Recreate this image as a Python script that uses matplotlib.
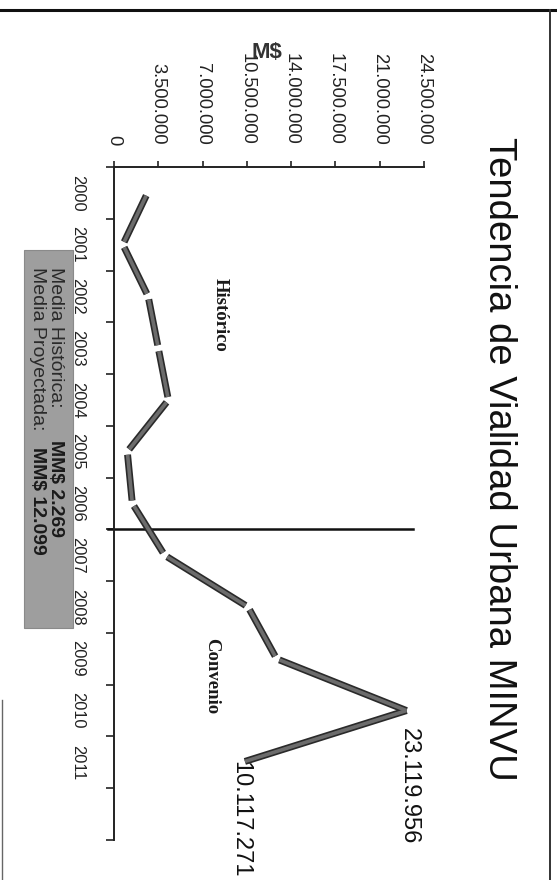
import matplotlib
matplotlib.use("Agg")
import matplotlib.pyplot as plt
from matplotlib.patches import Rectangle
from matplotlib.lines import Line2D
from matplotlib.ticker import FuncFormatter, FixedLocator
import numpy as np

plt.rcParams['font.family'] = ['Liberation Sans', 'DejaVu Sans']

# ---------------- data ----------------
years = ['2000', '2001', '2002', '2003', '2004', '2005', '2006',
         '2007', '2008', '2009', '2010', '2011', '']
values = [2.65e6, 0.70e6, 2.70e6, 3.50e6, 4.30e6, 1.05e6, 1.45e6,
          4.00e6, 10.60e6, 12.85e6, 23119956, 10117271]
value_ticks = [0, 3.5e6, 7.0e6, 10.5e6, 14.0e6, 17.5e6, 21.0e6, 24.5e6]
title = 'Tendencia de Vialidad Urbana MINVU'
unit_label = 'M$'
hist_label = 'Histórico'
conv_label = 'Convenio'
media_hist_text = 'Media Histórica:'
media_hist_val = 'MM$ 2.269'
media_proy_text = 'Media Proyectada:'
media_proy_val = 'MM$ 12.099'
peak_labels = {10: '23.119.956', 11: '10.117.271'}
split_after = 6  # separator between 2006 and 2007

W, H = 557, 880
fig = plt.figure(figsize=(W / 100, H / 100), dpi=100)

def fx(px):
    return px / W

def fy(py):
    return 1 - py / H

ax = fig.add_axes([fx(114), fy(840), fx(424) - fx(114), fy(167) - fy(840)])
ax.set_xlim(0, value_ticks[-1])
ax.set_ylim(len(years) - 0.5, -0.5)

for s in ['right', 'bottom']:
    ax.spines[s].set_visible(False)
for s in ['left', 'top']:
    ax.spines[s].set_linewidth(1.4)
    ax.spines[s].set_color('#222222')

# value axis on top
ax.xaxis.tick_top()
ax.set_xticks(value_ticks)
ax.xaxis.set_major_formatter(FuncFormatter(lambda v, p: f"{int(round(v)):,}".replace(',', '.')))
ax.tick_params(axis='x', direction='out', length=4, width=1.2, color='#222222',
               labelsize=13.2, labelcolor='#222222', pad=12, labelrotation=-90)
for lab in ax.get_xticklabels():
    lab.set_ha('center')
    lab.set_va('bottom')

# category axis on left
ncat = len(years)
ax.yaxis.set_major_locator(FixedLocator(np.arange(-0.5, ncat, 1.0)))
ax.yaxis.set_minor_locator(FixedLocator(np.arange(0, ncat)))
ax.yaxis.set_major_formatter(FuncFormatter(lambda v, p: ''))
ax.yaxis.set_minor_formatter(FuncFormatter(lambda v, p: years[int(round(v))] if 0 <= int(round(v)) < ncat else ''))
ax.tick_params(axis='y', which='major', direction='out', length=6, width=1.2, color='#222222')
ax.tick_params(axis='y', which='minor', length=0, labelsize=11.8, labelcolor='#222222',
               pad=21, labelrotation=-90)
for lab in ax.get_yticklabels(minor=True):
    lab.set_ha('right')
    lab.set_va('center')

# ---------------- line (segmented, 3D-like) ----------------
pos = np.arange(len(values))
tr = ax.transData
inv = tr.inverted()
gap = 3.0
for i in range(len(values) - 1):
    p0 = tr.transform((values[i], pos[i]))
    p1 = tr.transform((values[i + 1], pos[i + 1]))
    d = p1 - p0
    L = np.hypot(*d)
    u = d / L
    g0 = 0 if i == 10 else gap
    g1 = 0 if i == 9 else gap
    a = inv.transform(p0 + u * g0)
    b = inv.transform(p1 - u * g1)
    ax.plot([a[0], b[0]], [a[1], b[1]], color='#2a2a2a', lw=5.0,
            solid_capstyle='butt', zorder=3)
    ax.plot([a[0], b[0]], [a[1], b[1]], color='#6c6c6c', lw=2.6,
            solid_capstyle='butt', zorder=4)

# separator line
ax.plot([-0.47e6, 23.6e6], [split_after + 0.5, split_after + 0.5],
        color='#111111', lw=1.8, clip_on=False, zorder=2)

# section labels
ax.text(8.4e6, 2.35, hist_label, rotation=-90, ha='center', va='center',
        family=['Liberation Serif', 'DejaVu Serif'], weight='bold', fontsize=13.5, color='#1a1a1a')
ax.text(7.7e6, 9.33, conv_label, rotation=-90, ha='center', va='center',
        family=['Liberation Serif', 'DejaVu Serif'], weight='bold', fontsize=13.5, color='#1a1a1a')

# value labels
offsets = {10: (2, -17), 11: (-2, 1)}
for k, txt in peak_labels.items():
    ax.annotate(txt, xy=(values[k], pos[k]), xytext=offsets[k], textcoords='offset pixels',
                rotation=-90, ha='center', va='top', fontsize=17, color='#111111',
                annotation_clip=False)

# title
fig.text(fx(499), fy(459), title, rotation=-90, ha='center', va='center',
         fontsize=27.5, color='#111111')

# unit label
fig.text(fx(267), fy(52), unit_label, ha='center', va='center', fontsize=16,
         weight='bold', color='#333333')

# gray summary box
fig.add_artist(Rectangle((fx(24), fy(628)), fx(73) - fx(24), fy(250) - fy(628),
                         transform=fig.transFigure, facecolor='#9e9e9e',
                         edgecolor='#8a8a8a', lw=0.8, zorder=0))
fig.text(fx(55), fy(267), media_hist_text, rotation=-90, ha='center', va='top',
         fontsize=14, color='#2a2a2a')
fig.text(fx(55), fy(440), media_hist_val, rotation=-90, ha='center', va='top',
         fontsize=14, weight='bold', color='#1a1a1a')
fig.text(fx(37), fy(267), media_proy_text, rotation=-90, ha='center', va='top',
         fontsize=14, color='#2a2a2a')
fig.text(fx(37), fy(447), media_proy_val, rotation=-90, ha='center', va='top',
         fontsize=14, weight='bold', color='#1a1a1a')

# page borders
fig.add_artist(Line2D([0, 1], [fy(10), fy(10)], transform=fig.transFigure,
                      color='#111111', lw=2.2))
fig.add_artist(Line2D([fx(550), fx(550)], [fy(10), 0], transform=fig.transFigure,
                      color='#333333', lw=1.4))
fig.add_artist(Line2D([fx(2), fx(2)], [fy(700), 0], transform=fig.transFigure,
                      color='#666666', lw=1.0))

fig.savefig('out.png', dpi=100, facecolor='white')
